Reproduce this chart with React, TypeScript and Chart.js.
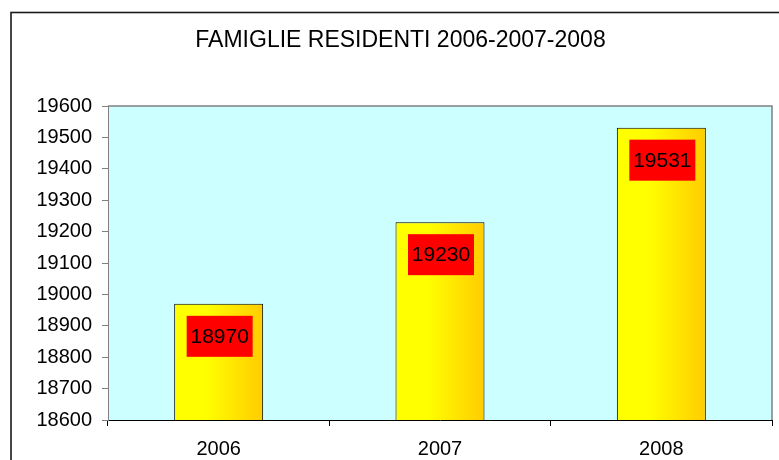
import React, { useEffect, useRef } from "react";
import { Chart, registerables } from "chart.js";

Chart.register(...registerables);

const title = "FAMIGLIE RESIDENTI 2006-2007-2008";
const categories = ["2006", "2007", "2008"];
const values = [18970, 19230, 19531];
const yMin = 18600;
const yMax = 19600;
const yStep = 100;

const FONT = "'Liberation Sans', Arial, Helvetica, sans-serif";
const BAR_PCT = 0.402;

const decorPlugin = {
  id: "decor",
  beforeDraw(chart: any) {
    const { ctx, chartArea: a } = chart;
    ctx.save();
    ctx.fillStyle = "#ffffff";
    ctx.fillRect(0, 0, chart.width, chart.height);
    // outer frame
    ctx.strokeStyle = "#1a1a1a";
    ctx.lineWidth = 1.6;
    ctx.strokeRect(11, 12.5, chart.width + 20, chart.height + 20);
    // plot background
    ctx.fillStyle = "#ccffff";
    ctx.fillRect(a.left, a.top, a.right - a.left, a.bottom - a.top);
    ctx.strokeStyle = "#808080";
    ctx.lineWidth = 1.5;
    ctx.beginPath();
    ctx.moveTo(a.left, a.top);
    ctx.lineTo(a.right, a.top);
    ctx.lineTo(a.right, a.bottom);
    ctx.stroke();
    // title
    ctx.fillStyle = "#000";
    ctx.font = `23px ${FONT}`;
    ctx.textAlign = "center";
    ctx.textBaseline = "alphabetic";
    ctx.fillText(title, 400.5, 47);
    ctx.restore();
  },
  afterDatasetsDraw(chart: any) {
    const { ctx } = chart;
    const meta = chart.getDatasetMeta(0);
    ctx.save();
    meta.data.forEach((el: any, i: number) => {
      const bw = 66;
      const bh = 41;
      const top = el.y + 12;
      const cx = el.x + 1;
      ctx.fillStyle = "#ff0000";
      ctx.fillRect(cx - bw / 2, top, bw, bh);
      ctx.fillStyle = "#000";
      ctx.font = `21px ${FONT}`;
      ctx.textAlign = "center";
      ctx.textBaseline = "middle";
      ctx.fillText(String(values[i]), cx, top + bh / 2 + 1);
    });
    ctx.restore();
  },
};

export default function App() {
  const ref = useRef<HTMLCanvasElement | null>(null);
  useEffect(() => {
    document.body.style.margin = "0";
    const canvas = ref.current;
    if (!canvas) return;
    const chart = new Chart(canvas, {
      type: "bar",
      data: {
        labels: categories,
        datasets: [
          {
            data: values,
            backgroundColor: (c: any) => {
              const ch = c.chart;
              const xs = ch.scales && ch.scales.x;
              if (!xs || c.type !== "data") return "#ffff00";
              const cx = xs.getPixelForValue(c.dataIndex);
              const w = ((xs.right - xs.left) / categories.length) * BAR_PCT;
              if (!Number.isFinite(cx) || !Number.isFinite(w) || w <= 0) return "#ffff00";
              const g = ch.ctx.createLinearGradient(cx - w / 2, 0, cx + w / 2, 0);
              g.addColorStop(0, "#ffff00");
              g.addColorStop(0.35, "#ffff00");
              g.addColorStop(1, "#ffcc00");
              return g;
            },
            borderColor: "#000000",
            borderWidth: 1,
            barPercentage: BAR_PCT,
            categoryPercentage: 1,
          } as any,
        ],
      },
      options: {
        responsive: false,
        animation: false,
        layout: { padding: { top: 106, right: 7, left: 0, bottom: 0 } },
        plugins: {
          legend: { display: false },
          tooltip: { enabled: false },
          title: { display: false },
        },
        scales: {
          x: {
            offset: true,
            grid: {
              offset: true,
              drawOnChartArea: false,
              drawTicks: true,
              tickLength: 6,
              color: "#000",
            },
            border: { color: "#000", width: 1 },
            ticks: { font: { family: FONT, size: 20 }, color: "#000", padding: 11 },
            afterFit: (s: any) => {
              s.height = 40;
            },
          },
          y: {
            min: yMin,
            max: yMax,
            ticks: {
              stepSize: yStep,
              font: { family: FONT, size: 20 },
              color: "#000",
              padding: 10,
              callback: (v: any) => String(v),
            },
            grid: { drawOnChartArea: false, drawTicks: true, tickLength: 6, color: "#808080" },
            border: { color: "#808080", width: 1 },
            afterFit: (s: any) => {
              s.width = 108;
            },
          },
        },
      } as any,
      plugins: [decorPlugin],
    });
    return () => chart.destroy();
  }, []);
  return (
    <canvas
      ref={ref}
      width={779}
      height={460}
      style={{ display: "block", width: 779, height: 460 }}
    />
  );
}
